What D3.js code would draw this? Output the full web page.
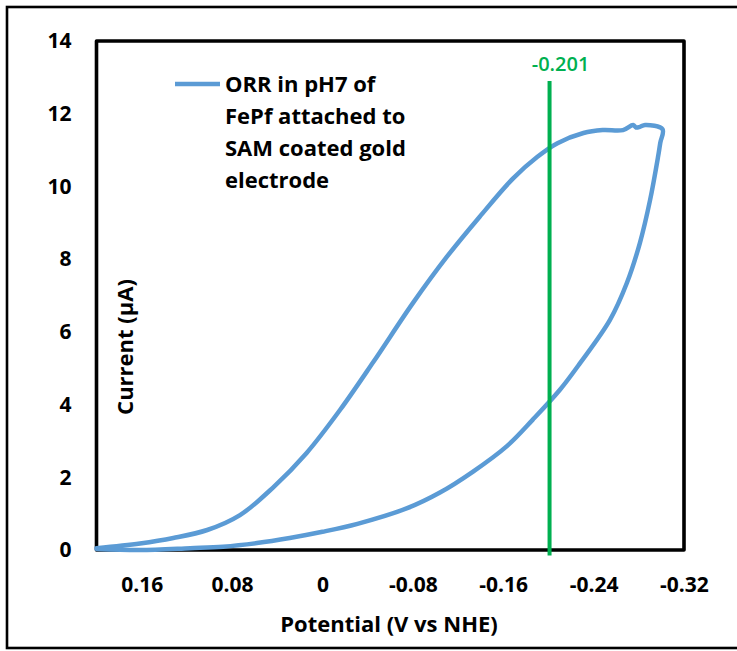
<!DOCTYPE html>
<html>
<head>
<meta charset="utf-8">
<script src="https://cdn.jsdelivr.net/npm/d3@7"></script>
<style>
  html, body { margin: 0; padding: 0; background: #fff; }
  svg { display: block; font-family: "Open Sans", Lato, "DejaVu Sans", sans-serif; }
</style>
</head>
<body>
<svg id="chart" width="737" height="651"></svg>
<script>
// Cyclic voltammogram: potential (V vs NHE) and current (µA), in scan order
const potential = [
  0.200, 0.1615, 0.132, 0.102, 0.073, 0.044, 0.014, -0.0155, -0.045, -0.080,
  -0.110, -0.139, -0.169, -0.190, -0.208, -0.231, -0.248, -0.266, -0.275, -0.2775,
  -0.281, -0.2855, -0.301,
  -0.299, -0.297, -0.290, -0.281, -0.2695, -0.2545, -0.228, -0.210, -0.186, -0.163,
  -0.133, -0.104, -0.075, -0.031, 0.000, 0.029, 0.058, 0.088, 0.117,
  0.1615, 0.200
];
const current = [
  0.05, 0.18, 0.33, 0.55, 0.96, 1.71, 2.67, 3.85, 5.17, 6.79,
  8.06, 9.16, 10.23, 10.81, 11.19, 11.47, 11.55, 11.55, 11.69, 11.62,
  11.64, 11.69, 11.57,
  11.20, 10.81, 9.63, 8.45, 7.35, 6.33, 5.14, 4.40, 3.58, 2.85,
  2.15, 1.58, 1.15, 0.72, 0.50, 0.33, 0.19, 0.09, 0.05,
  0.00, 0.03
];

const seriesName = ["ORR in pH7 of", "FePf attached to", "SAM coated gold", "electrode"];

// Onset marker
const markerValue = -0.201;
const markerLabel = "-0.201";
const markerSpan = [-0.15, 12.9];

const xTicks = [0.16, 0.08, 0, -0.08, -0.16, -0.24, -0.32];
const xTickLabels = ["0.16", "0.08", "0", "-0.08", "-0.16", "-0.24", "-0.32"];
const yTicks = [0, 2, 4, 6, 8, 10, 12, 14];
const yTickLabels = ["0", "2", "4", "6", "8", "10", "12", "14"];

const xDomain = [0.2, -0.32];
const yDomain = [0, 14];

const xTitle = "Potential (V vs NHE)";
const yTitle = "Current (\u03bcA)";

const svg = d3.select("#chart");
const plot = { left: 96.5, top: 41, right: 684, bottom: 550 };

const x = d3.scaleLinear().domain(xDomain).range([plot.left, plot.right]);
const y = d3.scaleLinear().domain(yDomain).range([plot.bottom, plot.top]);

// outer frame (open on the right)
svg.append("rect")
  .attr("x", 7).attr("y", 7)
  .attr("width", 760).attr("height", 641)
  .attr("fill", "none").attr("stroke", "#000").attr("stroke-width", 2.6);

// tick labels
const xAxis = d3.axisBottom(x)
  .tickValues(xTicks)
  .tickSize(0)
  .tickPadding(27)
  .tickFormat((d, i) => xTickLabels[i]);
const gx = svg.append("g").attr("transform", `translate(0,${plot.bottom})`).call(xAxis);
gx.select(".domain").remove();
gx.selectAll("text").attr("font-size", 21).attr("font-weight", 700)
  .attr("fill", "#000").attr("font-family", "'Open Sans', sans-serif");

const yAxis = d3.axisLeft(y)
  .tickValues(yTicks)
  .tickSize(0)
  .tickPadding(25)
  .tickFormat((d, i) => yTickLabels[i]);
const gy = svg.append("g").attr("transform", `translate(${plot.left},0)`).call(yAxis);
gy.select(".domain").remove();
gy.selectAll("text").attr("font-size", 21).attr("font-weight", 700)
  .attr("fill", "#000").attr("font-family", "'Open Sans', sans-serif");

// plot area frame
svg.append("rect")
  .attr("x", plot.left).attr("y", plot.top)
  .attr("width", plot.right - plot.left).attr("height", plot.bottom - plot.top)
  .attr("fill", "none").attr("stroke", "#000").attr("stroke-width", 3.6)
  .attr("stroke-linejoin", "round");

// CV trace
const pts = potential.map((v, i) => [v, current[i]]);
const line = d3.line()
  .x(d => x(d[0])).y(d => y(d[1]))
  .curve(d3.curveCatmullRom.alpha(0.5));
svg.append("path")
  .datum(pts)
  .attr("d", line)
  .attr("fill", "none")
  .attr("stroke", "#5B9BD5")
  .attr("stroke-width", 4.5)
  .attr("stroke-linejoin", "round")
  .attr("stroke-linecap", "round");

// onset potential marker
svg.append("line")
  .attr("x1", x(markerValue)).attr("x2", x(markerValue))
  .attr("y1", y(markerSpan[1])).attr("y2", y(markerSpan[0]))
  .attr("stroke", "#00B050").attr("stroke-width", 4);
svg.append("text")
  .attr("x", x(markerValue) + 11).attr("y", 71)
  .attr("text-anchor", "middle")
  .attr("font-size", 20).attr("font-weight", 600)
  .attr("fill", "#00B050")
  .text(markerLabel);

// legend
const legend = svg.append("g");
legend.append("line")
  .attr("x1", 175).attr("x2", 220).attr("y1", 84).attr("y2", 84)
  .attr("stroke", "#5B9BD5").attr("stroke-width", 4.5);
legend.selectAll("text.leg")
  .data(seriesName)
  .join("text")
  .attr("class", "leg")
  .attr("x", 225)
  .attr("y", (d, i) => 92 + i * 32)
  .attr("font-size", 22).attr("font-weight", 700)
  .attr("fill", "#000")
  .text(d => d);

// axis titles
svg.append("text")
  .attr("x", 389).attr("y", 632)
  .attr("text-anchor", "middle")
  .attr("font-size", 22).attr("font-weight", 700)
  .attr("fill", "#000")
  .text(xTitle);

svg.append("text")
  .attr("transform", "translate(133,347) rotate(-90)")
  .attr("text-anchor", "middle")
  .attr("font-size", 22).attr("font-weight", 700)
  .attr("fill", "#000")
  .text(yTitle);
</script>
</body>
</html>
